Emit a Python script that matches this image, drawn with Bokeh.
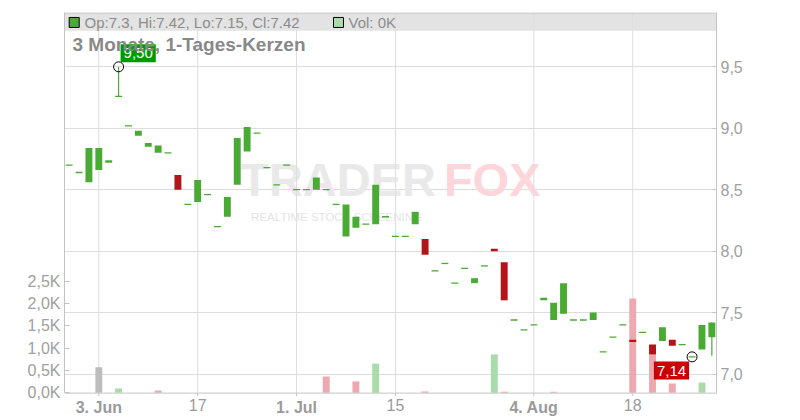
import numpy as np
from bokeh.plotting import figure
from bokeh.models import (Range1d, LinearAxis, FixedTicker, CustomJSTickFormatter,
                          Label, BoxAnnotation, ColumnDataSource, Span)
from bokeh.embed import file_html
from bokeh.resources import INLINE
from bokeh.core.properties import value

# ---------------- data ----------------
opens = [8.70, 8.64, 8.56, 8.66, 8.72, 9.26, 9.02, 8.94, 8.85, 8.80,
         8.80, 8.62, 8.38, 8.40, 8.46, 8.20, 8.28, 8.54, 8.81, 8.96,
         8.68, 8.54, 8.70, 8.50, 8.50, 8.50, 8.50, 8.38, 8.12, 8.19,
         8.22, 8.22, 8.28, 8.12, 8.12, 8.22, 8.10, 7.84, 7.90, 7.74,
         7.86, 7.74, 7.88, 8.02, 7.91, 7.44, 7.36, 7.40, 7.60, 7.44,
         7.49, 7.44, 7.44, 7.44, 7.18, 7.30, 7.40, 7.28, 7.34, 7.24,
         7.27, 7.28, 7.24, 7.14, 7.20, 7.30]
highs = [8.70, 8.64, 8.84, 8.84, 8.74, 9.50, 9.02, 8.98, 8.88, 8.86,
         8.80, 8.62, 8.38, 8.58, 8.46, 8.20, 8.44, 8.92, 9.01, 8.96,
         8.68, 8.54, 8.70, 8.50, 8.50, 8.60, 8.50, 8.38, 8.38, 8.28,
         8.22, 8.54, 8.28, 8.12, 8.12, 8.32, 8.10, 7.84, 7.90, 7.74,
         7.86, 7.78, 7.88, 8.02, 7.91, 7.44, 7.36, 7.40, 7.62, 7.58,
         7.74, 7.44, 7.44, 7.50, 7.18, 7.30, 7.40, 7.28, 7.34, 7.24,
         7.38, 7.28, 7.24, 7.14, 7.40, 7.42]
lows = [8.70, 8.64, 8.56, 8.66, 8.72, 9.26, 9.02, 8.94, 8.85, 8.80,
        8.80, 8.50, 8.38, 8.40, 8.46, 8.20, 8.28, 8.54, 8.81, 8.96,
        8.68, 8.54, 8.70, 8.50, 8.50, 8.50, 8.50, 8.38, 8.12, 8.19,
        8.22, 8.22, 8.28, 8.12, 8.12, 8.22, 7.97, 7.84, 7.90, 7.74,
        7.86, 7.74, 7.88, 8.00, 7.60, 7.44, 7.36, 7.40, 7.60, 7.44,
        7.49, 7.44, 7.44, 7.44, 7.18, 7.30, 7.40, 7.26, 7.34, 7.16,
        7.27, 7.23, 7.24, 7.14, 7.20, 7.15]
closes = [8.70, 8.64, 8.84, 8.84, 8.74, 9.26, 9.02, 8.98, 8.88, 8.86,
          8.80, 8.50, 8.38, 8.58, 8.46, 8.20, 8.44, 8.92, 9.01, 8.96,
          8.68, 8.54, 8.70, 8.50, 8.50, 8.60, 8.50, 8.38, 8.38, 8.28,
          8.22, 8.54, 8.28, 8.12, 8.12, 8.32, 7.97, 7.84, 7.90, 7.74,
          7.86, 7.78, 7.88, 8.00, 7.60, 7.44, 7.36, 7.40, 7.62, 7.58,
          7.74, 7.44, 7.44, 7.50, 7.18, 7.30, 7.40, 7.26, 7.34, 7.16,
          7.38, 7.23, 7.24, 7.14, 7.40, 7.42]
volumes = [0, 0, 0, 570, 0, 95, 0, 0, 0, 50,
           0, 0, 0, 0, 0, 0, 0, 0, 0, 0,
           0, 0, 0, 0, 0, 0, 365, 0, 0, 255,
           0, 655, 0, 0, 0, 0, 30, 0, 0, 0,
           0, 0, 0, 860, 25, 0, 0, 0, 0, 25,
           0, 0, 0, 0, 0, 0, 0, 2110, 0, 860,
           0, 210, 0, 0, 230, 0]

price_ticks = [7.0, 7.5, 8.0, 8.5, 9.0, 9.5]
vol_ticks = [0, 500, 1000, 1500, 2000, 2500]
date_tick_idx = [3, 13, 23, 33, 47, 57]
date_tick_labels = ["3. Jun", "17", "1. Jul", "15", "4. Aug", "18"]
date_tick_bold = [True, False, True, False, True, False]

title_text = "3 Monate, 1-Tages-Kerzen"

# ---------------- styles / layout ----------------
FONT = "Liberation Sans"
UP = "#4aab34"
DOWN = "#b31418"
VOL_UP = "#aadcaa"
VOL_DOWN = "#efa8af"
VOL_FLAT = "#bdbdbd"
GRID = "#dddddd"
AXIS = "#c4c4c4"
LABEL = "#a0a0a0"

P_BOT, P_TOP = 6.845, 9.942          # price span of the chart body
V_TOP = 8513                          # volume value at the frame top
PX = 122.9                            # pixels per price unit
FH = 406                              # frame height incl. date label strip

n = len(closes)
idx = np.arange(n)
o = np.array(opens); h = np.array(highs); l = np.array(lows); c = np.array(closes)

p = figure(frame_width=652, frame_height=FH,
           x_range=Range1d(-0.47, 65.47), y_range=Range1d(P_TOP - FH / PX, P_TOP),
           y_axis_location="right", output_backend="svg", toolbar_location=None,
           min_border_left=64, min_border_top=12, min_border_right=10,
           min_border_bottom=0)
p.extra_y_ranges = {"vol": Range1d(V_TOP - FH * V_TOP / 380.3, V_TOP)}
p.background_fill_color = "white"
p.border_fill_color = "white"
p.outline_line_color = None

# header band
p.add_layout(BoxAnnotation(bottom=9.793, top=P_TOP, fill_color="#e3e3e3", fill_alpha=1.0,
                           line_color=None, level="underlay"))
p.add_layout(Span(location=P_TOP - 0.5 / PX, dimension="width", line_color=AXIS, line_width=1))

# watermark
p.add_layout(Label(x=17.3, y=8.37, text="TRADER", text_font=FONT, text_font_style="bold",
                   text_font_size="47px", text_color="#e9e9e9", level="underlay"))
p.add_layout(Label(x=37.9, y=8.37, text="FOX", text_font=FONT, text_font_style="bold",
                   text_font_size="47px", text_color="#fcd6da", level="underlay"))
p.add_layout(Label(x=18.4, y=8.23, text="REALTIME STOCK SCREENING", text_font=FONT,
                   text_font_size="11.5px", text_color="#e4e4e4", level="underlay"))

# vertical grid lines (stop at the axis line)
p.segment(x0=date_tick_idx, x1=date_tick_idx, y0=P_BOT, y1=P_TOP,
          line_color=GRID, line_width=1)

# volume bars
vcol = [VOL_FLAT] + [VOL_UP if c[i] > c[i - 1] else (VOL_DOWN if c[i] < c[i - 1] else VOL_FLAT)
                     for i in range(1, n)]
vsrc = ColumnDataSource(dict(x=idx, top=volumes, color=vcol))
p.vbar(x="x", top="top", bottom=0, width=0.7, fill_color="color", line_color=None,
       source=vsrc, y_range_name="vol")

# candles
ccol = [UP if c[i] >= o[i] else DOWN for i in range(n)]
wick = [i for i in range(n) if h[i] > max(o[i], c[i]) or l[i] < min(o[i], c[i])]
p.segment(x0=idx[wick], x1=idx[wick], y0=l[wick], y1=h[wick],
          line_color=[ccol[i] for i in wick], line_width=1.2)
body = [i for i in range(n) if o[i] != c[i]]
p.quad(left=idx[body] - 0.35, right=idx[body] + 0.35,
       top=np.maximum(o, c)[body], bottom=np.minimum(o, c)[body],
       fill_color=[ccol[i] for i in body], line_color=None)
flat = [i for i in range(n) if o[i] == c[i]]
p.segment(x0=idx[flat] - 0.35, x1=idx[flat] + 0.35, y0=c[flat], y1=c[flat],
          line_color=[ccol[i] for i in flat], line_width=1.3)

# high / low markers
hi_i = int(np.argmax(h)); lo_i = int(np.argmin(l))
p.scatter([hi_i, lo_i], [h[hi_i], l[lo_i]], marker="circle", size=10,
          fill_color=None, line_color="black", line_width=1)
p.add_layout(Label(x=hi_i, y=h[hi_i], x_offset=2, y_offset=4.5,
                   text=f"{h[hi_i]:.2f}".replace(".", ","), text_font=FONT,
                   text_font_size="15px", text_color="white", text_align="left",
                   text_baseline="bottom", background_fill_color="#009a00",
                   padding=dict(left=3, right=3, top=4, bottom=4)))
p.add_layout(Label(x=lo_i, y=l[lo_i], x_offset=-3, y_offset=-4.7,
                   text=f"{l[lo_i]:.2f}".replace(".", ","), text_font=FONT,
                   text_font_size="15px", text_color="white", text_align="right",
                   text_baseline="top", background_fill_color="#cc0000",
                   padding=dict(left=3, right=3, top=4, bottom=4)))

# title
p.add_layout(Label(x=0.34, y=9.598, text=title_text, text_font=FONT,
                   text_font_style="bold", text_font_size="19px", text_color="#888888"))

# header legend
p.scatter([0.51], [9.861], marker="square", size=10, fill_color=UP, line_color="black")
p.scatter([27.24], [9.861], marker="square", size=10, fill_color=VOL_UP, line_color="black")
p.add_layout(Label(x=1.56, y=9.861, text=f"Op:{o[-1]:g}, Hi:{h[-1]:g}, Lo:{l[-1]:g}, Cl:{c[-1]:g}",
                   text_font=FONT, text_font_size="15px", text_color="#8c8c8c",
                   text_baseline="middle"))
p.add_layout(Label(x=28.25, y=9.861, text=f"Vol: {volumes[-1] / 1000:.0f}K",
                   text_font=FONT, text_font_size="15px", text_color="#8c8c8c",
                   text_baseline="middle"))

# axes
ya = p.yaxis[0]
ya.ticker = FixedTicker(ticks=price_ticks)
ya.formatter = CustomJSTickFormatter(code="return tick.toFixed(1).replace('.', ',');")
ya.bounds = (P_BOT, P_TOP)
p.ygrid.ticker = ya.ticker
vax = LinearAxis(y_range_name="vol", ticker=FixedTicker(ticks=vol_ticks),
                 formatter=CustomJSTickFormatter(
                     code="return (tick/1000).toFixed(1).replace('.', ',') + 'K';"),
                 bounds=(0, V_TOP))
p.add_layout(vax, "left")
for ax, tin in ((ya, 4), (vax, 5)):
    ax.major_tick_in = tin
    ax.major_tick_out = 0
    ax.minor_tick_line_color = None
    ax.major_tick_line_color = AXIS
    ax.axis_line_color = AXIS
    ax.major_label_standoff = 4
    ax.major_label_text_font = FONT
    ax.major_label_text_font_size = "16px"
    ax.major_label_text_color = LABEL

p.xaxis.visible = False
p.xgrid.visible = False
p.ygrid.grid_line_color = GRID

# date axis: line, ticks and labels
p.add_layout(Span(location=P_BOT, dimension="width", line_color=AXIS, line_width=1))
p.segment(x0=date_tick_idx, x1=date_tick_idx, y0=P_BOT, y1=P_BOT - 3 / PX,
          line_color=AXIS, line_width=1)
lab_y = P_BOT - 5.5 / PX
bold_x = [x for x, b in zip(date_tick_idx, date_tick_bold) if b]
bold_t = [t for t, b in zip(date_tick_labels, date_tick_bold) if b]
norm_x = [x for x, b in zip(date_tick_idx, date_tick_bold) if not b]
norm_t = [t for t, b in zip(date_tick_labels, date_tick_bold) if not b]
p.text(x=bold_x, y=[lab_y] * len(bold_x), text=bold_t, text_font=value(FONT),
       text_font_style="bold", text_font_size="16px", text_color="#9a9a9a",
       text_align="center", text_baseline="top")
p.text(x=norm_x, y=[lab_y] * len(norm_x), text=norm_t, text_font=value(FONT),
       text_font_size="16px", text_color="#9a9a9a",
       text_align="center", text_baseline="top")

open("out.html", "w").write(file_html(p, INLINE))
